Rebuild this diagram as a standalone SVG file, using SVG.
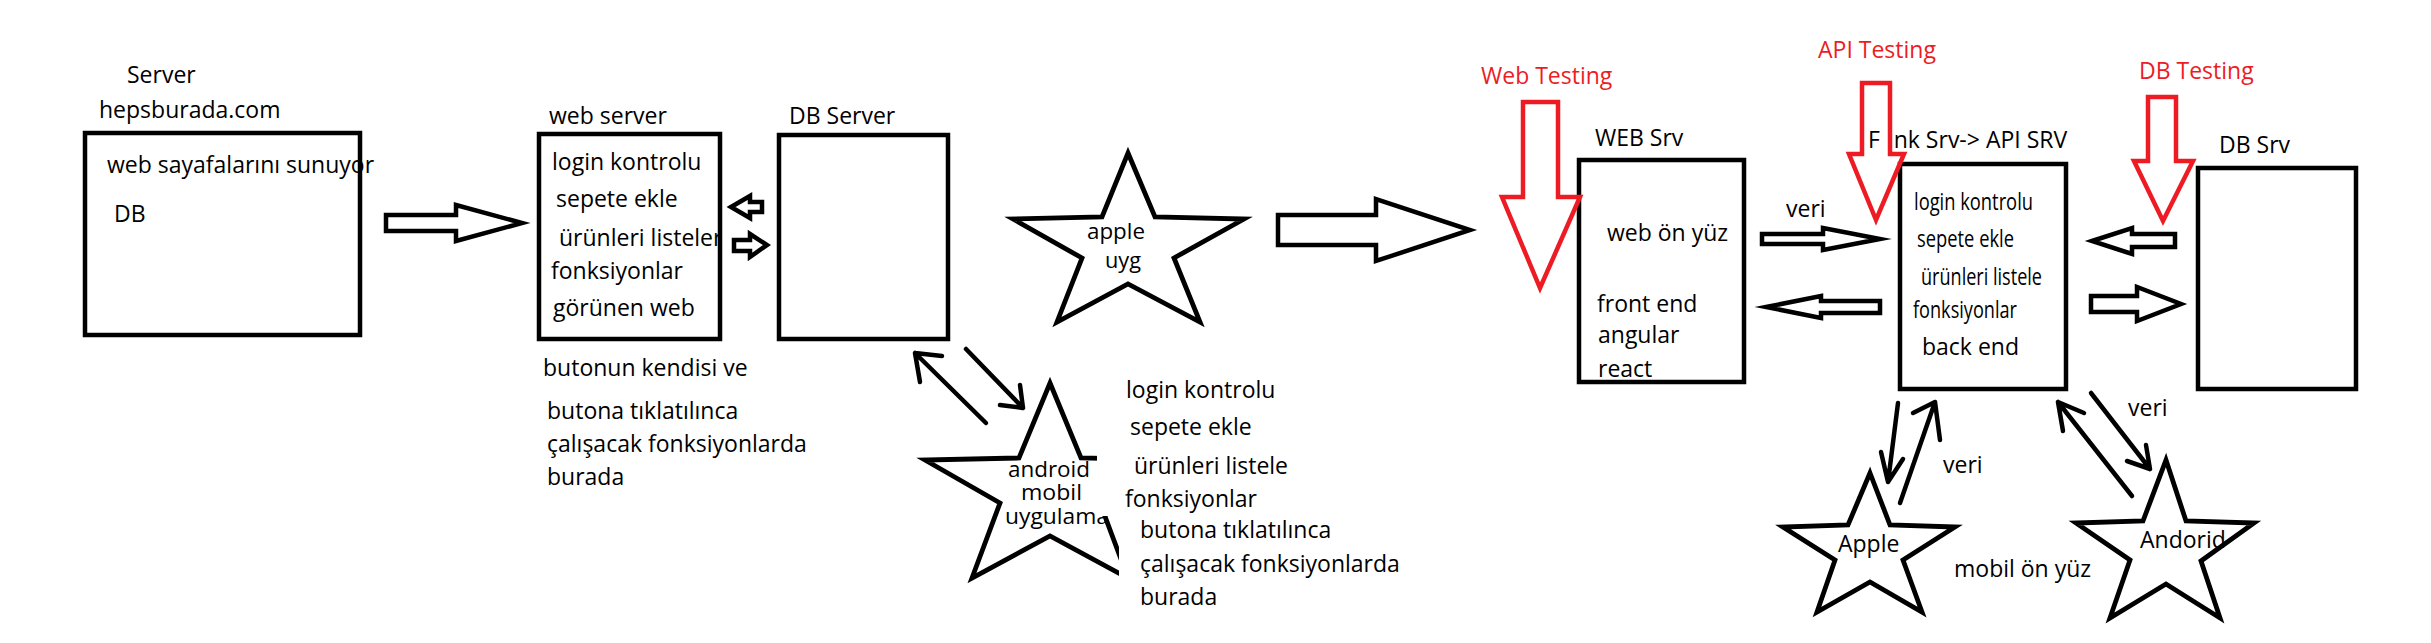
<svg xmlns="http://www.w3.org/2000/svg" width="2431" height="643" viewBox="0 0 2431 643">
<defs>
<style>
.t{font-family:"Open Sans","Liberation Sans",sans-serif;font-size:23px;fill:#000}
.s{font-size:21px}
.r{fill:#ED1C24}
.box{fill:none;stroke:#000;stroke-width:4.5}
.arr{fill:#fff;stroke:#000;stroke-width:4.5;stroke-linejoin:miter;stroke-miterlimit:10}
.red{fill:none;stroke:#ED1C24;stroke-width:4.5;stroke-linejoin:miter;stroke-miterlimit:10}
.star{fill:#fff;stroke:#000;stroke-width:4.8;stroke-linejoin:miter;stroke-miterlimit:10}
.ln{fill:none;stroke:#000;stroke-width:4.5;stroke-linecap:round;stroke-linejoin:round}
</style>
<clipPath id="wsclip"><rect x="530" y="120" width="190" height="240"/></clipPath>
</defs>
<rect width="2431" height="643" fill="#fff"/>

<g id="server-hepsburada">
<text class="t" x="127" y="83">Server</text>
<text class="t" x="99" y="118">hepsburada.com</text>
<rect class="box" x="85" y="133" width="275" height="202"/>
<text class="t" x="107" y="173">web sayafalarını sunuyor</text>
<text class="t" x="114" y="222">DB</text>
</g>

<g id="web-server">
<text class="t" x="549" y="124">web server</text>
<text class="t" x="552" y="170">login kontrolu</text>
<text class="t" x="556" y="207">sepete ekle</text>
<text class="t" x="559" y="246" clip-path="url(#wsclip)">ürünleri listeler</text>
<text class="t" x="551" y="279">fonksiyonlar</text>
<text class="t" x="553" y="316">görünen web</text>
<rect class="box" x="539" y="134" width="181" height="205"/>
<text class="t" x="543" y="376">butonun kendisi ve</text>
<text class="t" x="547" y="419">butona tıklatılınca</text>
<text class="t" x="547" y="452">çalışacak fonksiyonlarda</text>
<text class="t" x="547" y="485">burada</text>
</g>

<g id="db-server">
<text class="t" x="789" y="124">DB Server</text>
<rect class="box" x="779" y="135" width="169" height="204"/>
</g>

<g id="apple-uyg">
<polygon class="star" points="1128,153 1155,217 1244,219 1174,258 1200,322 1128,284 1057,322 1082,258 1013,219 1102,217"/>
<text class="t s" x="1087" y="239" textLength="58" lengthAdjust="spacingAndGlyphs">apple</text>
<text class="t s" x="1105" y="268" textLength="36" lengthAdjust="spacingAndGlyphs">uyg</text>
</g>

<g id="android-mobil">
<polygon class="star" points="1050,383 1081,458 1175,460 1100,503 1128,578 1050,536 972,578 1000,503 925,460 1019,458"/>
<text class="t s" x="1008" y="477" textLength="82" lengthAdjust="spacingAndGlyphs">android</text>
<text class="t s" x="1021" y="500" textLength="61" lengthAdjust="spacingAndGlyphs">mobil</text>
<text class="t s" x="1005" y="524" textLength="104" lengthAdjust="spacingAndGlyphs">uygulama</text>
</g>

<g id="android-notes">
<rect x="1097" y="440" width="60" height="76" fill="#fff"/>
<rect x="1119" y="440" width="80" height="150" fill="#fff"/>
<text class="t" x="1126" y="398">login kontrolu</text>
<text class="t" x="1130" y="435">sepete ekle</text>
<text class="t" x="1134" y="474">ürünleri listele</text>
<text class="t" x="1125" y="507">fonksiyonlar</text>
<text class="t" x="1140" y="538">butona tıklatılınca</text>
<text class="t" x="1140" y="572">çalışacak fonksiyonlarda</text>
<text class="t" x="1140" y="605">burada</text>
</g>

<g id="web-srv">
<text class="t" x="1595" y="146">WEB Srv</text>
<rect class="box" x="1579" y="160" width="165" height="222"/>
<text class="t" x="1607" y="241">web ön yüz</text>
<text class="t" x="1597" y="312">front end</text>
<text class="t" x="1598" y="343">angular</text>
<text class="t" x="1598" y="377">react</text>
</g>

<g id="api-srv">
<text class="t" x="1868" y="148">Fonk Srv-&gt; API SRV</text>
<rect x="1880" y="126" width="14" height="26" fill="#fff"/>
<rect class="box" x="1900" y="164" width="166" height="225"/>
<text class="t" x="1914" y="210" textLength="119" lengthAdjust="spacingAndGlyphs">login kontrolu</text>
<text class="t" x="1917" y="247" textLength="97" lengthAdjust="spacingAndGlyphs">sepete ekle</text>
<text class="t" x="1921" y="285" textLength="121" lengthAdjust="spacingAndGlyphs">ürünleri listele</text>
<text class="t" x="1913" y="318" textLength="104" lengthAdjust="spacingAndGlyphs">fonksiyonlar</text>
<text class="t" x="1922" y="355">back end</text>
</g>

<g id="db-srv">
<text class="t" x="2219" y="153">DB Srv</text>
<rect class="box" x="2198" y="168" width="158" height="221"/>
</g>

<g id="apple">
<polygon class="star" points="1870,473 1890,525 1955,527 1903,560 1922,612 1870,582 1817,612 1835,560 1783,527 1848,525"/>
<text class="t" x="1838" y="552">Apple</text>
</g>

<g id="andorid">
<polygon class="star" points="2166,460 2186,521 2254,523 2201,561 2220,618 2166,584 2110,618 2130,560 2076,523 2143,521"/>
<text class="t" x="2140" y="548">Andorid</text>
</g>

<g id="connectors">
<polygon class="arr" points="386,215 456,215 456,205 522,223 456,241 456,231 386,231"/>
<polygon class="arr" points="731,207 750,196 750,202 762,202 762,212 750,212 750,218"/>
<polygon class="arr" points="734,240 750,240 750,234 767,245 750,257 750,251 734,251"/>
<polygon class="arr" points="1278,215 1376,215 1376,199 1470,230 1376,261 1376,245 1278,245"/>
<polygon class="arr" points="1762,234 1823,234 1823,228 1880,239 1823,250 1823,244 1762,244"/>
<polygon class="arr" points="1766,307 1821,296 1821,301 1880,301 1880,313 1821,313 1821,318"/>
<polygon class="arr" points="2092,241 2132,228 2132,234 2175,234 2175,247 2132,247 2132,254"/>
<polygon class="arr" points="2091,296 2137,296 2137,287 2181,304 2137,321 2137,312 2091,312"/>
<path class="ln" d="M986,423 L915,353 M942,356 L915,353 L920,382"/>
<path class="ln" d="M966,349 L1023,408 M1000,405 L1023,408 L1020,385"/>
<path class="ln" d="M1898,403 L1888,482 M1881,452 L1888,482 L1903,459"/>
<path class="ln" d="M1900,503 L1935,402 M1913,413 L1935,402 L1940,440"/>
<path class="ln" d="M2132,496 L2058,402 M2084,413 L2058,402 L2063,431"/>
<path class="ln" d="M2091,393 L2150,469 M2127,461 L2150,469 L2146,445"/>
<text class="t" x="1786" y="217">veri</text>
<text class="t" x="1943" y="473">veri</text>
<text class="t" x="2128" y="416">veri</text>
<text class="t" x="1954" y="577">mobil ön yüz</text>
</g>

<g id="web-testing">
<text class="t r" x="1481" y="84">Web Testing</text>
<polygon class="red" points="1523,102 1558,102 1558,197 1580,197 1540,288 1502,197 1523,197"/>
</g>

<g id="api-testing">
<text class="t r" x="1818" y="58">API Testing</text>
<polygon class="red" points="1862,83 1890,83 1890,154 1904,154 1876,220 1849,154 1862,154"/>
</g>

<g id="db-testing">
<text class="t r" x="2139" y="79">DB Testing</text>
<polygon class="red" points="2148,97 2176,97 2176,161 2193,161 2163,221 2134,161 2148,161"/>
</g>
</svg>
